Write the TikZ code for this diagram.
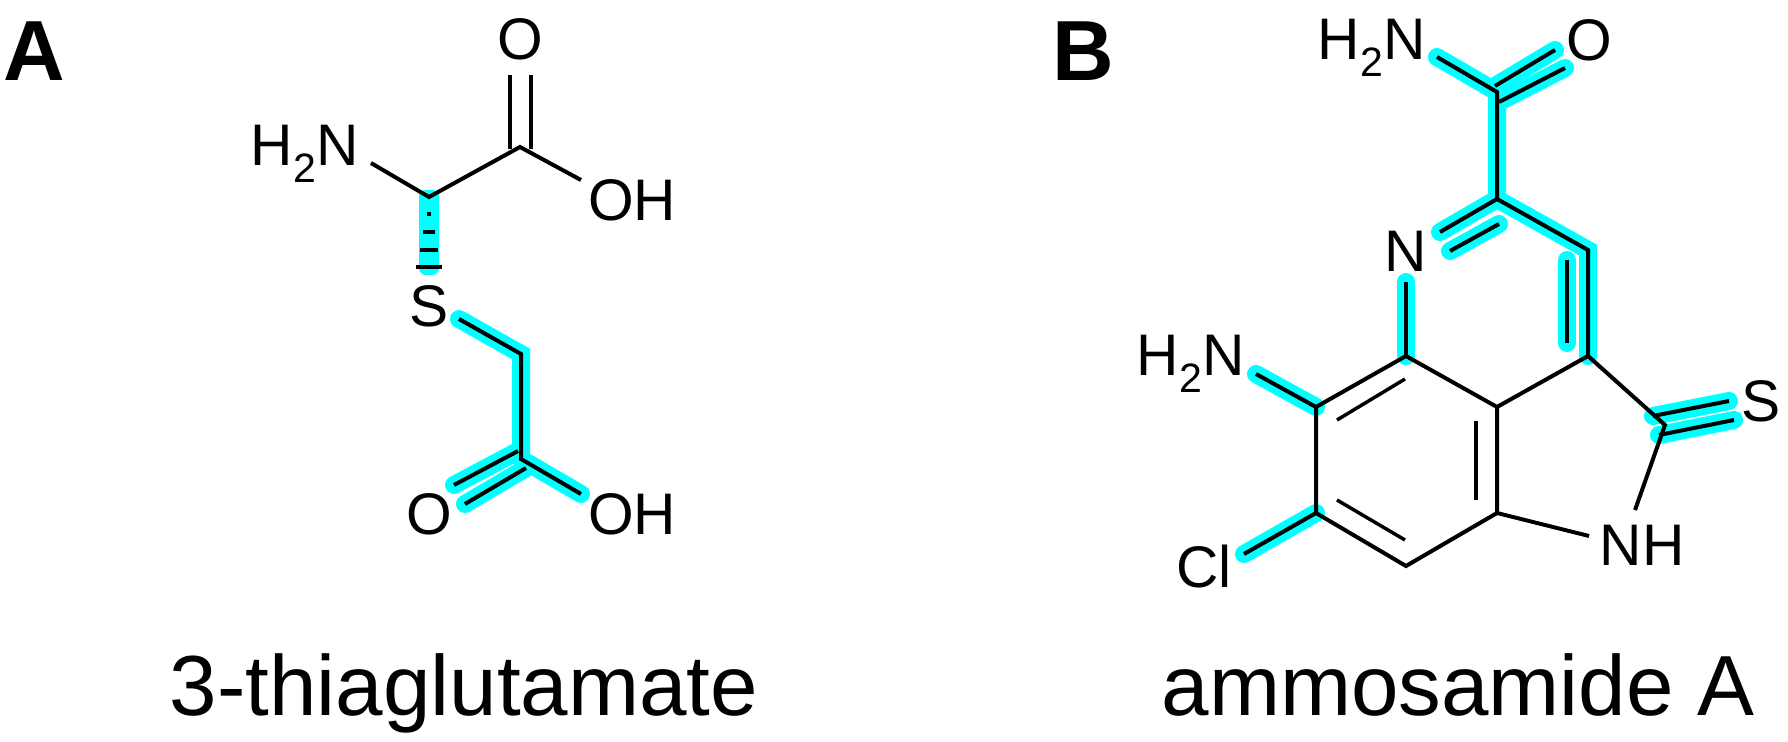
\documentclass[tikz,border=0pt]{standalone}
\usepackage{fontspec}
\setmainfont{Liberation Sans}
\usepackage{tikz}

\definecolor{glowcyan}{RGB}{0,255,255}
\tikzset{
  bond/.style={line width=3pt, color=black},
  thinbond/.style={line width=2.6pt, color=black},
  glow/.style={line width=13.5pt, color=glowcyan, line cap=round},
  atomlabel/.style={inner sep=0pt, font=\fontsize{44}{50}\selectfont},
  caption/.style={inner sep=0pt, anchor=base, font=\fontsize{64}{72}\selectfont},
  panel/.style={inner sep=0pt, font=\fontsize{64}{70}\selectfont\bfseries}
}

\begin{document}
\begin{tikzpicture}[x=0.75pt,y=0.75pt,yscale=-1]
\useasboundingbox (0,0) rectangle (1788,742);

%Atoms of 3-thiaglutamate
\coordinate (ca) at (429,197);
\coordinate (cx) at (520,147);
\coordinate (cxa) at (510,149);
\coordinate (cxb) at (531,149);
\coordinate (oa) at (510,75);
\coordinate (ob) at (531,75);
\coordinate (ohend) at (581,180);
\coordinate (nend) at (371,163);
\coordinate (send) at (459,319);
\coordinate (cm) at (521,354);
\coordinate (cc) at (521,459);
\coordinate (ccend) at (581,494);
\coordinate (oca) at (454,485);
\coordinate (ocb) at (518,451);
\coordinate (occ) at (465,504);
\coordinate (ocd) at (526,468);

%Atoms of ammosamide A
\coordinate (am) at (1497,92);
\coordinate (amn) at (1437,57);
\coordinate (amoa) at (1495,86);
\coordinate (amob) at (1555,50);
\coordinate (amoc) at (1499,102);
\coordinate (amod) at (1565,68);
\coordinate (c2) at (1497,199);
\coordinate (na) at (1440,232);
\coordinate (nb) at (1450,251);
\coordinate (nc) at (1499,224);
\coordinate (c3) at (1588,250);
\coordinate (c4) at (1588,356);
\coordinate (c3a) at (1567,260);
\coordinate (c4a) at (1567,343);
\coordinate (c5) at (1406,356);
\coordinate (nend2) at (1406,282);
\coordinate (c6) at (1316,407);
\coordinate (c7) at (1316,513);
\coordinate (c8) at (1406,566);
\coordinate (c9) at (1497,513);
\coordinate (c10) at (1497,407);
\coordinate (in1) at (1337,420);
\coordinate (in2) at (1405,379);
\coordinate (in3) at (1337,500);
\coordinate (in4) at (1405,540);
\coordinate (in5) at (1476,421);
\coordinate (in6) at (1476,500);
\coordinate (c11) at (1665,425);
\coordinate (sa) at (1653,416);
\coordinate (sb) at (1729,401);
\coordinate (sc) at (1659,435);
\coordinate (sd) at (1734,420);
\coordinate (nhend) at (1635,510);
\coordinate (nhend2) at (1589,536);
\coordinate (nh2end) at (1256,374);
\coordinate (clend) at (1244,554);

%Highlight
\fill [glowcyan, rounded corners=5pt] (419,190) rectangle (439,275);
\draw [glow] (send) -- (cm) -- (cc);
\draw [glow] (cc) -- (ccend);
\draw [glow] (oca) -- (ocb);
\draw [glow] (occ) -- (ocd);
\draw [glow] (amn) -- (am) -- (c2) -- (c3) -- (c4);
\draw [glow] (amoa) -- (amob);
\draw [glow] (amoc) -- (amod);
\draw [glow] (na) -- (c2);
\draw [glow] (nb) -- (nc);
\draw [glow] (c3a) -- (c4a);
\draw [glow] (nend2) -- (c5);
\draw [glow] (nh2end) -- (c6);
\draw [glow] (clend) -- (c7);
\draw [glow] (sa) -- (sb);
\draw [glow] (sc) -- (sd);

%Bonds of 3-thiaglutamate
\draw [bond] (nend) -- (ca) -- (cx) -- (ohend);
\draw [bond] (oa) -- (cxa);
\draw [bond] (ob) -- (cxb);
\draw [bond] (send) -- (cm) -- (cc) -- (ccend);
\draw [bond] (oca) -- (ocb);
\draw [bond] (occ) -- (ocd);
%Hashed bond
\draw [bond] ([xshift=-1.5]ca |- 0,214) -- ([xshift=1.5]ca |- 0,214);
\draw [bond] ([xshift=-4.5]ca |- 0,232) -- ([xshift=4.5]ca |- 0,232);
\draw [bond] ([xshift=-7]ca |- 0,250) -- ([xshift=7]ca |- 0,250);
\draw [bond] ([xshift=-9.5]ca |- 0,267) -- ([xshift=9.5]ca |- 0,267);

%Bonds of ammosamide A
\draw [bond] (amn) -- (am) -- (c2) -- (c3) -- (c4) -- (c10) -- (c5) -- (c6) -- (c7) -- (c8) -- (c9) -- (c10);
\draw [bond] (amoa) -- (amob);
\draw [bond] (amoc) -- (amod);
\draw [bond] (na) -- (c2);
\draw [bond] (nb) -- (nc);
\draw [bond] (c3a) -- (c4a);
\draw [bond] (nend2) -- (c5);
\draw [bond] (nh2end) -- (c6);
\draw [bond] (clend) -- (c7);
\draw [bond] (c4) -- (c11) -- (nhend);
\draw [bond] (c9) -- (nhend2);
\draw [bond] (sa) -- (sb);
\draw [bond] (sc) -- (sd);
\draw [thinbond] (in1) -- (in2);
\draw [thinbond] (in3) -- (in4);
\draw [thinbond] (in5) -- (in6);

% Text Node
\node [panel] (panela) at (34,51) {A};
\node [panel] (panelb) at (1083,51) {B};
\node [atomlabel] (o1) at (520,39) {O};
\node [atomlabel] (oh1) at (632,200) {OH};
\node [atomlabel] (nh1) at (305,154) {H\textsubscript{2}N};
\node [atomlabel] (s1) at (429,306) {S};
\node [atomlabel] (o2) at (429,514) {O};
\node [atomlabel] (oh2) at (632,514) {OH};
\node [atomlabel] (nh2) at (1372,48) {H\textsubscript{2}N};
\node [atomlabel] (o3) at (1589,40) {O};
\node [atomlabel] (n3) at (1406,251) {N};
\node [atomlabel] (nh3) at (1191,364) {H\textsubscript{2}N};
\node [atomlabel] (s3) at (1761,401) {S};
\node [atomlabel] (nh4) at (1642,545) {NH};
\node [atomlabel] (cl3) at (1204,567) {Cl};
\node [caption] (cap1) at (464,715) {3-thiaglutamate};
\node [caption] (cap2) at (1458,715) {ammosamide A};

\end{tikzpicture}
\end{document}
